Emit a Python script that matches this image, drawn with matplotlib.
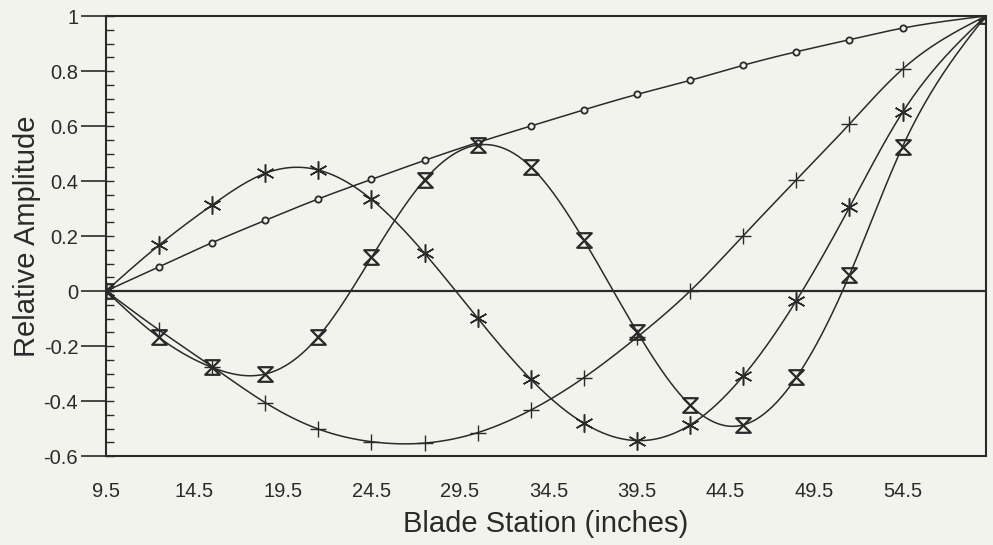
import numpy as np
import matplotlib
matplotlib.use('Agg')
import matplotlib.pyplot as plt
from matplotlib.path import Path
from matplotlib.ticker import MultipleLocator

# blade stations (inches)
stations = [9.5, 12.5, 15.5, 18.5, 21.5, 24.5, 27.5, 30.5, 33.5,
            36.5, 39.5, 42.5, 45.5, 48.5, 51.5, 54.5, 59.2]

circle_mode = [0, 0.088, 0.176, 0.257, 0.335, 0.406, 0.475, 0.540, 0.600,
               0.659, 0.715, 0.766, 0.821, 0.870, 0.914, 0.956, 1.0]
plus_mode = [0, -0.142, -0.275, -0.406, -0.502, -0.548, -0.553, -0.515, -0.433,
             -0.315, -0.168, 0.0, 0.201, 0.404, 0.607, 0.807, 1.0]
star_mode = [0, 0.167, 0.313, 0.428, 0.440, 0.333, 0.137, -0.099, -0.321,
             -0.481, -0.544, -0.487, -0.309, -0.035, 0.304, 0.650, 1.0]
glass_mode = [0, -0.169, -0.278, -0.302, -0.166, 0.122, 0.404, 0.531, 0.452,
              0.185, -0.148, -0.415, -0.487, -0.314, 0.058, 0.525, 1.0]

xticks = [9.5, 14.5, 19.5, 24.5, 29.5, 34.5, 39.5, 44.5, 49.5, 54.5]
yticks = [-0.6, -0.4, -0.2, 0, 0.2, 0.4, 0.6, 0.8, 1]
ytick_labels = ['-0.6', '-0.4', '-0.2', '0', '0.2', '0.4', '0.6', '0.8', '1']


def natural_spline(x, y, n=400):
    # plain natural cubic spline, only used to draw the smooth curve
    x = np.asarray(x, float)
    y = np.asarray(y, float)
    k = len(x)
    h = np.diff(x)
    A = np.zeros((k, k))
    r = np.zeros(k)
    A[0, 0] = A[-1, -1] = 1
    for i in range(1, k - 1):
        A[i, i - 1] = h[i - 1]
        A[i, i] = 2 * (h[i - 1] + h[i])
        A[i, i + 1] = h[i]
        r[i] = 3 * ((y[i + 1] - y[i]) / h[i] - (y[i] - y[i - 1]) / h[i - 1])
    c = np.linalg.solve(A, r)
    b = (y[1:] - y[:-1]) / h - h * (2 * c[:-1] + c[1:]) / 3
    d = (c[1:] - c[:-1]) / (3 * h)
    xs = np.linspace(x[0], x[-1], n)
    idx = np.clip(np.searchsorted(x, xs) - 1, 0, k - 2)
    t = xs - x[idx]
    ys = y[idx] + b[idx] * t + c[idx] * t ** 2 + d[idx] * t ** 3
    return xs, ys


hourglass = Path([(-1, 1), (1, 1), (-1, -1), (1, -1), (-1, 1)],
                 [Path.MOVETO, Path.LINETO, Path.LINETO, Path.LINETO, Path.CLOSEPOLY])

bg = '#f3f3ee'
ink = '#2a2a2a'
plt.rcParams['font.family'] = ['Liberation Sans', 'DejaVu Sans']

fig = plt.figure(figsize=(9.93, 5.45), dpi=100, facecolor=bg)
ax = fig.add_axes([0.1067, 0.1633, 0.886, 0.8073], facecolor=bg)

series = [
    (circle_mode, dict(marker='o', markersize=4.5, mfc=bg, mew=1.3)),
    (plus_mode, dict(marker='+', markersize=12, mew=1.0)),
    (star_mode, dict(marker=(6, 2, 0), markersize=13, mew=1.1)),
    (glass_mode, dict(marker=hourglass, markersize=10.5, mfc='none', mew=1.6)),
]
for vals, style in series:
    xs, ys = natural_spline(stations, vals)
    ax.plot(xs, ys, color=ink, lw=1.1)
    ax.plot(stations, vals, ls='none', color=ink, mec=ink, **style)

ax.axhline(0, color=ink, lw=1.6, zorder=1)

ax.set_xlim(9.5, 59.2)
ax.set_ylim(-0.6, 1.0)
ax.set_xticks(xticks)
ax.set_xticklabels([str(t) for t in xticks])
ax.set_yticks(yticks)
ax.set_yticklabels(ytick_labels)
ax.yaxis.set_minor_locator(MultipleLocator(0.05))
ax.yaxis.remove_overlapping_locs = False
ax.tick_params(axis='x', length=0, pad=19, labelsize=14.5, colors=ink)
ax.tick_params(axis='y', which='major', direction='out', length=18, width=1.2,
               pad=2, labelsize=14.5, colors=ink)
ax.tick_params(axis='y', which='minor', direction='in', length=6, width=1.0, colors=ink)

for s in ax.spines.values():
    s.set_color(ink)
    s.set_linewidth(1.5)

ax.set_xlabel('Blade Station (inches)', fontsize=21, color=ink, labelpad=6)
ax.set_ylabel('Relative Amplitude', fontsize=21, color=ink, labelpad=2)

fig.savefig('out.png', dpi=100, facecolor=bg)
